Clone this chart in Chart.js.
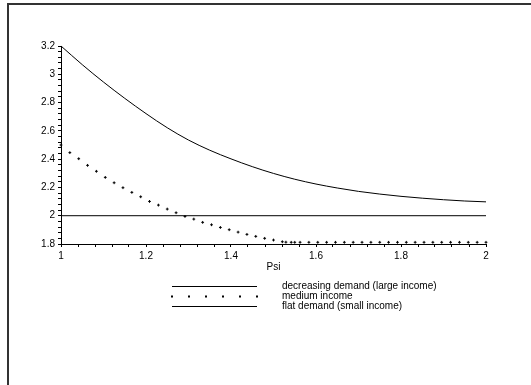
<!DOCTYPE html>
<html lang="en">
<head>
<meta charset="UTF-8">
<title>Demand vs Psi</title>
<style>
  body { margin: 0; background: #fff; }
  #frame { position: absolute; left: 7px; top: 3px; width: 540px; height: 400px;
           border-top: 2px solid #333; border-left: 2px solid #333; }
  #chart { position: absolute; left: 0; top: 0; }
</style>
</head>
<body>
<div id="frame"></div>
<canvas id="chart" width="531" height="385"></canvas>

<script src="https://cdn.jsdelivr.net/npm/chart.js"></script>
<script>
// values
const seriesLabels = ['decreasing demand (large income)', 'medium income', 'flat demand (small income)'];

const psiLarge = [1, 1.05, 1.1, 1.15, 1.2, 1.25, 1.3, 1.35, 1.4, 1.45, 1.5,
                  1.55, 1.6, 1.65, 1.7, 1.75, 1.8, 1.85, 1.9, 1.95, 2];
const largeIncome = [3.2, 3.068, 2.945, 2.83, 2.722, 2.622, 2.535, 2.463, 2.402, 2.347, 2.299,
                     2.258, 2.224, 2.196, 2.172, 2.153, 2.137, 2.124, 2.113, 2.104, 2.098];

const psiMedium = [1, 1.0208, 1.0417, 1.0625, 1.0833, 1.1042, 1.125, 1.1458, 1.1667, 1.1875,
                   1.2083, 1.2292, 1.25, 1.2708, 1.2917, 1.3125, 1.3333, 1.3542, 1.375, 1.3958,
                   1.4167, 1.4375, 1.4583, 1.4792, 1.5, 1.5208, 1.5292, 1.5417, 1.55, 1.5625,
                   1.5833, 1.6042, 1.625, 1.6458, 1.6667, 1.6875, 1.7083, 1.7292, 1.75, 1.7708,
                   1.7917, 1.8125, 1.8333, 1.8542, 1.875, 1.8958, 1.9167, 1.9375, 1.9583, 1.9792, 2];
const mediumIncome = [2.5, 2.446, 2.403, 2.356, 2.314, 2.271, 2.233, 2.198, 2.165, 2.134,
                      2.101, 2.075, 2.047, 2.021, 1.995, 1.976, 1.953, 1.936, 1.917, 1.901,
                      1.884, 1.868, 1.854, 1.840, 1.828, 1.816, 1.813, 1.812, 1.812, 1.812,
                      1.812, 1.812, 1.812, 1.812, 1.812, 1.812, 1.812, 1.812, 1.812, 1.812,
                      1.812, 1.812, 1.812, 1.812, 1.812, 1.812, 1.812, 1.812, 1.812, 1.812, 1.812];

const psiSmall = [1, 2];
const smallIncome = [2, 2];

const xTickLabels = [1, 1.2, 1.4, 1.6, 1.8, 2];
const yTickLabels = [1.8, 2, 2.2, 2.4, 2.6, 2.8, 3, 3.2];

const toPoints = (xs, ys) => xs.map((x, i) => ({ x: x, y: ys[i] }));
const majorLabel = (list) => (v) => {
  const hit = list.find(t => Math.abs(t - v) < 1e-6);
  return hit === undefined ? '' : String(hit);
};

const font = { family: "'Liberation Sans', Arial, sans-serif", size: 10 };

// legend drawn as a column, like the original
const columnLegend = {
  id: 'columnLegend',
  afterDraw(chart) {
    const ctx = chart.ctx;
    const x0 = 172, x1 = 257, tx = 282, y0 = 286, rowH = 10;
    ctx.save();
    ctx.font = '10px ' + font.family;
    ctx.textBaseline = 'middle';
    chart.data.datasets.forEach((ds, i) => {
      const y = y0 + i * rowH;
      ctx.strokeStyle = '#000';
      ctx.fillStyle = '#000';
      ctx.lineWidth = 1;
      if (ds.showLine) {
        ctx.beginPath();
        ctx.moveTo(x0, y + 0.5);
        ctx.lineTo(x1, y + 0.5);
        ctx.stroke();
      } else {
        for (let k = 0; k < 6; k++) {
          const px = x0 + k * (x1 - x0) / 5;
          ctx.fillRect(px - 1, y - 0.5, 2, 2);
        }
      }
      ctx.fillText(ds.label, tx, y);
    });
    ctx.restore();
  }
};

new Chart(document.getElementById('chart'), {
  type: 'scatter',
  data: {
    datasets: [
      { label: seriesLabels[0], data: toPoints(psiLarge, largeIncome), showLine: true,
        borderColor: '#000', borderWidth: 1, pointRadius: 0, cubicInterpolationMode: 'monotone', clip: false },
      { label: seriesLabels[1], data: toPoints(psiMedium, mediumIncome), showLine: false,
        pointStyle: 'cross', pointRadius: 1.4, borderColor: '#000', borderWidth: 1,
        backgroundColor: '#000', clip: false },
      { label: seriesLabels[2], data: toPoints(psiSmall, smallIncome), showLine: true,
        borderColor: '#000', borderWidth: 1, pointRadius: 0, clip: false }
    ]
  },
  options: {
    responsive: false,
    animation: false,
    layout: { padding: { top: 46, right: 45, bottom: 108, left: 0 } },
    plugins: { legend: { display: false }, tooltip: { enabled: false } },
    scales: {
      x: {
        type: 'linear', min: 1, max: 2,
        afterFit(scale) { scale.height = 33; },
        border: { color: '#000', width: 1 },
        grid: { drawOnChartArea: false, tickLength: 3, tickColor: '#000' },
        ticks: { stepSize: 0.04, autoSkip: false, maxRotation: 0, color: '#000', font: font,
                 padding: 3, callback: majorLabel(xTickLabels) },
        title: { display: true, text: 'Psi', color: '#000', font: font }
      },
      y: {
        type: 'linear', min: 1.8, max: 3.2,
        afterFit(scale) { scale.width = 61; },
        border: { color: '#000', width: 1 },
        grid: { drawOnChartArea: false, tickLength: 3, tickColor: '#000' },
        ticks: { stepSize: 0.04, autoSkip: false, color: '#000', font: font,
                 padding: 3, callback: majorLabel(yTickLabels) }
      }
    }
  },
  plugins: [columnLegend]
});
</script>
</body>
</html>
